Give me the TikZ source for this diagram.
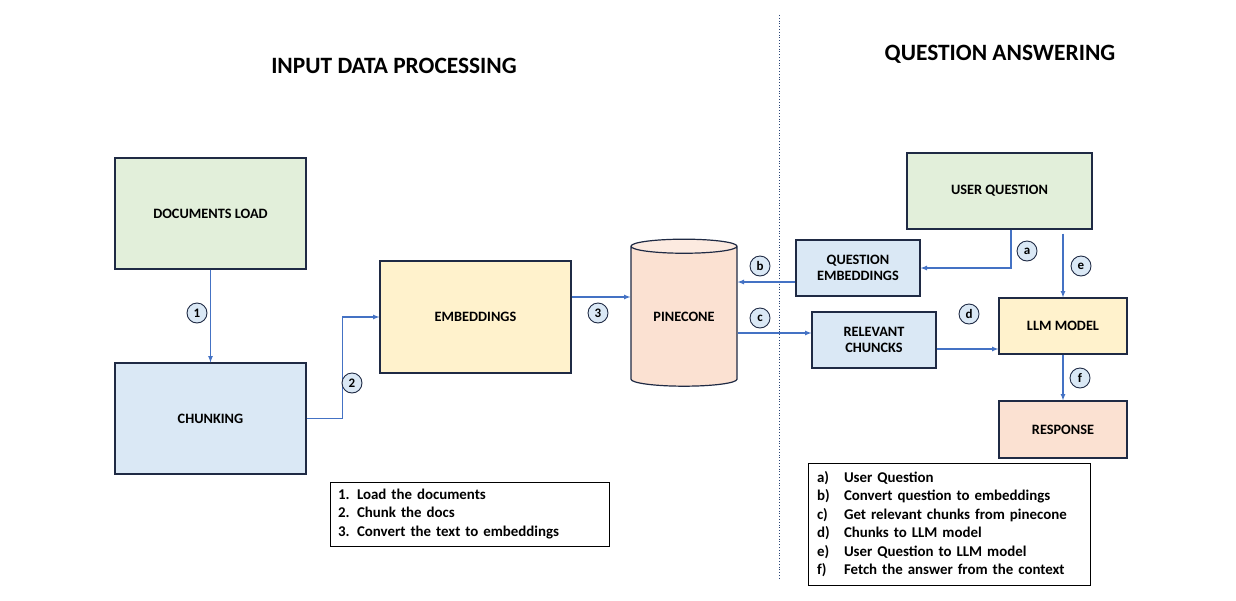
\documentclass[tikz,border=0pt]{standalone}
\usepackage{fontspec}
\setmainfont{Carlito}
\usetikzlibrary{shapes.geometric}
\definecolor{edge}{HTML}{1F2A44}
\definecolor{flowblue}{HTML}{4472C4}
\definecolor{greenbox}{HTML}{E2EFDA}
\definecolor{bluebox}{HTML}{DAE8F5}
\definecolor{yellowbox}{HTML}{FFF2CC}
\definecolor{peachbox}{HTML}{FBE1D2}
\definecolor{peachtop}{HTML}{FCEAE0}
\begin{document}
\begin{tikzpicture}[
	x=1pt, y={(0pt,-1pt)},
	box/.style={rectangle,draw=edge,line width=1.2pt,inner sep=0pt,align=center,
	font=\bfseries\fontsize{14.3}{16}\selectfont},
	badge/.style={circle,draw=edge,fill=bluebox,line width=0.9pt,
	inner sep=0pt,minimum size=20pt,font=\bfseries\fontsize{13}{14}\selectfont},
	flow/.style={>=latex,draw=flowblue,line width=1.2pt,->},
	legend/.style={rectangle,draw=black,line width=1pt,inner ysep=0pt,align=left,
	font=\bfseries\fontsize{14.9}{18.5}\selectfont},
	heading/.style={font=\bfseries\fontsize{23.4}{27}\selectfont},
	]
	\useasboundingbox (0,0) rectangle (1236,600);
	% titles and divider
	\node[heading] (title1) at (394,66) {INPUT DATA PROCESSING};
	\node[heading] (title2) at (1000,54) {QUESTION ANSWERING};
	\draw[draw=flowblue!60!black,dotted,line width=0.8pt] (779,15) -- (779,578);
	% input side
	\node[box,fill=greenbox,minimum width=191pt,minimum height=111pt] (docs) at (210.5,213.5) {DOCUMENTS LOAD};
	\node[box,fill=bluebox,minimum width=191pt,minimum height=111pt] (chunk) at (210.5,418.5) {CHUNKING};
	\node[box,fill=yellowbox,minimum width=191pt,minimum height=112pt] (emb) at (475.5,317) {EMBEDDINGS};
	\node[box,shape=cylinder,shape border rotate=90,aspect=0.23,
	cylinder uses custom fill,cylinder body fill=peachbox,cylinder end fill=peachtop,
	minimum height=147pt,minimum width=106pt] (pc) at (684,316.5) {PINECONE};
	% question side
	\node[box,fill=greenbox,minimum width=185pt,minimum height=76pt] (uq) at (999.5,191) {USER QUESTION};
	\node[box,fill=bluebox,minimum width=124pt,minimum height=56pt] (qemb) at (858,268) {QUESTION\\EMBEDDINGS};
	\node[box,fill=bluebox,minimum width=124pt,minimum height=56pt] (rel) at (874,340) {RELEVANT\\CHUNCKS};
	\node[box,fill=yellowbox,minimum width=128pt,minimum height=56pt] (llm) at (1063,326) {LLM MODEL};
	\node[box,fill=peachbox,minimum width=128pt,minimum height=57pt] (resp) at (1063,429.5) {RESPONSE};
	% connectors
	\draw[flow] (docs.south) -- (chunk.north);
	\draw[flow] (chunk.east) -- ++(36,0) |- (emb.west);
	\draw[flow] ([yshift=20pt]emb.east) -- ([yshift=20pt]emb.east -| pc.west);
	\draw[flow] ([yshift=-14pt]qemb.west) -- ([yshift=-14pt]qemb.west -| pc.east);
	\draw[flow] ([yshift=7pt]rel.west -| pc.east) -- ([yshift=7pt]rel.west);
	\draw[flow] ([xshift=11.5pt]uq.south) |- (qemb.east);
	\draw[flow] ([yshift=-4pt]llm.north |- uq.south) -- (llm.north);
	\draw[flow] ([yshift=-9pt]rel.east) -- ([yshift=-9pt]rel.east -| llm.west);
	\draw[flow] (llm.south) -- (resp.north);
	% step badges
	\node[badge] (n1) at (197,313) {1};
	\node[badge] (n2) at (352,383) {2};
	\node[badge] (n3) at (598,313) {3};
	\node[badge] (na) at (1027,251) {a};
	\node[badge] (nb) at (760,266) {b};
	\node[badge] (nc) at (760,318) {c};
	\node[badge] (nd) at (969,314) {d};
	\node[badge] (ne) at (1081,266) {e};
	\node[badge] (nf) at (1080,378) {f};
	% keys
	\node[legend,inner xsep=8pt,text width=263pt,minimum height=64pt] (key1) at (469.5,514)
	{\makebox[19pt][l]{1.}Load the documents\\
	 \makebox[19pt][l]{2.}Chunk the docs\\
	 \makebox[19pt][l]{3.}Convert the text to embeddings};
	\node[legend,inner xsep=9pt,text width=264pt,minimum height=122pt] (key2) at (949,524)
	{\makebox[27pt][l]{a)}User Question\\
	 \makebox[27pt][l]{b)}Convert question to embeddings\\
	 \makebox[27pt][l]{c)}Get relevant chunks from pinecone\\
	 \makebox[27pt][l]{d)}Chunks to LLM model\\
	 \makebox[27pt][l]{e)}User Question to LLM model\\
	 \makebox[27pt][l]{f)}Fetch the answer from the context};
\end{tikzpicture}
\end{document}
